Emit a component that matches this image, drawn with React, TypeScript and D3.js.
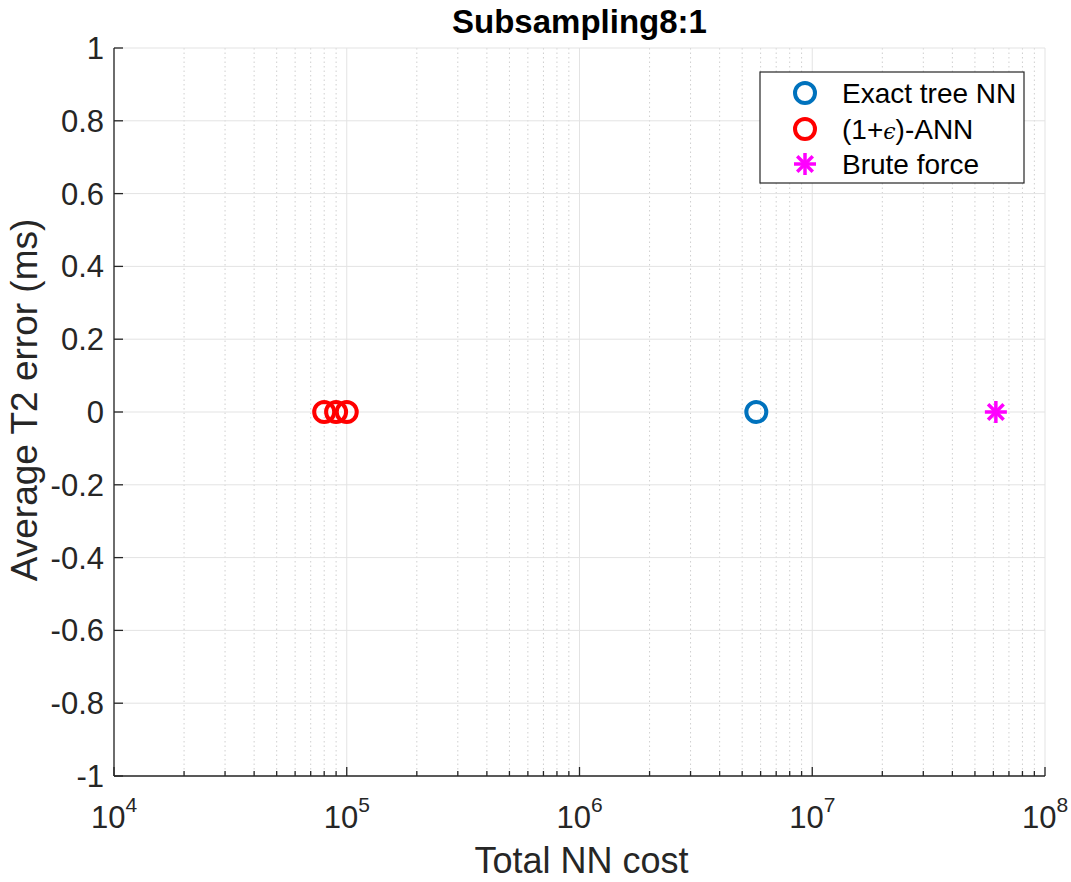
import React from "react";
import * as d3 from "d3";

// series: total NN cost vs average T2 error
const exactCost = [5.75e6];
const exactErr = [0];
const annCost = [8.0e4, 9.0e4, 1.0e5];
const annErr = [0, 0, 0];
const bruteCost = [6.15e7];
const bruteErr = [0];

const xDecades = [4, 5, 6, 7, 8];
const yTicks = [-1, -0.8, -0.6, -0.4, -0.2, 0, 0.2, 0.4, 0.6, 0.8, 1];
const yTickLabels = ["-1", "-0.8", "-0.6", "-0.4", "-0.2", "0", "0.2", "0.4", "0.6", "0.8", "1"];

const legendLabels = ["Exact tree NN", "(1+", "Brute force"];

const W = 1071;
const H = 882;
const left = 114;
const right = 1045;
const top = 48;
const bottom = 776;

const axisColor = "#262626";
const font = "'Liberation Sans', Arial, Helvetica, sans-serif";
const blue = "#0072BD";
const red = "#FF0000";
const magenta = "#FF00FF";

function Star({ cx, cy, r, color }: { cx: number; cy: number; r: number; color: string }) {
  const d = r * Math.SQRT1_2;
  return (
    <g stroke={color} strokeWidth={3.5} strokeLinecap="butt">
      <line x1={cx - r} y1={cy} x2={cx + r} y2={cy} />
      <line x1={cx} y1={cy - r} x2={cx} y2={cy + r} />
      <line x1={cx - d} y1={cy - d} x2={cx + d} y2={cy + d} />
      <line x1={cx - d} y1={cy + d} x2={cx + d} y2={cy - d} />
    </g>
  );
}

export default function App() {
  const x = d3.scaleLog().domain([1e4, 1e8]).range([left, right]);
  const y = d3.scaleLinear().domain([-1, 1]).range([bottom, top]);

  const minor: number[] = [];
  xDecades.slice(0, -1).forEach((e) => {
    for (let m = 2; m <= 9; m++) minor.push(m * Math.pow(10, e));
  });

  const legX = 760;
  const legY = 72;
  const legW = 264;
  const legH = 111;
  const rowY = [93, 129, 164];
  const markX = 805;
  const textX = 842;

  return (
    <svg
      width={W}
      height={H}
      style={{ position: "absolute", left: 0, top: 0, background: "#fff" }}
      fontFamily={font}
    >
      <rect width={W} height={H} fill="#fff" />

      {/* minor x grid */}
      {minor.map((v, i) => (
        <line
          key={"mg" + i}
          x1={x(v)}
          x2={x(v)}
          y1={top}
          y2={bottom}
          stroke="#cfcfcf"
          strokeWidth={1}
          strokeDasharray="1.5,3"
        />
      ))}
      {/* major grid */}
      {xDecades.map((e) => (
        <line
          key={"xg" + e}
          x1={x(Math.pow(10, e))}
          x2={x(Math.pow(10, e))}
          y1={top}
          y2={bottom}
          stroke="#e3e3e3"
          strokeWidth={1}
        />
      ))}
      {yTicks.map((v) => (
        <line key={"yg" + v} x1={left} x2={right} y1={y(v)} y2={y(v)} stroke="#e3e3e3" strokeWidth={1} />
      ))}

      {/* axes */}
      <line x1={left} x2={left} y1={top} y2={bottom} stroke={axisColor} strokeWidth={1.3} />
      <line x1={left} x2={right} y1={bottom} y2={bottom} stroke={axisColor} strokeWidth={1.3} />
      {yTicks.map((v) => (
        <line key={"yt" + v} x1={left} x2={left + 9} y1={y(v)} y2={y(v)} stroke={axisColor} strokeWidth={1.3} />
      ))}
      {xDecades.map((e) => (
        <line
          key={"xt" + e}
          x1={x(Math.pow(10, e))}
          x2={x(Math.pow(10, e))}
          y1={bottom}
          y2={bottom - 9}
          stroke={axisColor}
          strokeWidth={1.3}
        />
      ))}
      {minor.map((v, i) => (
        <line key={"mt" + i} x1={x(v)} x2={x(v)} y1={bottom} y2={bottom - 5} stroke={axisColor} strokeWidth={1.3} />
      ))}

      {/* tick labels */}
      {yTicks.map((v, i) => (
        <text
          key={"yl" + v}
          x={left - 10}
          y={y(v) + 11}
          textAnchor="end"
          fontSize={31}
          fill={axisColor}
        >
          {yTickLabels[i]}
        </text>
      ))}
      {xDecades.map((e) => (
        <text key={"xl" + e} x={x(Math.pow(10, e))} y={828} textAnchor="middle" fontSize={31} fill={axisColor}>
          <tspan>10</tspan>
          <tspan dy={-16} fontSize={21}>
            {e}
          </tspan>
        </text>
      ))}

      {/* axis labels and title */}
      <text x={(left + right) / 2 + 2} y={873} textAnchor="middle" fontSize={36} fill={axisColor}>
        Total NN cost
      </text>
      <text
        transform={`translate(37,400) rotate(-90)`}
        textAnchor="middle"
        fontSize={37}
        fill={axisColor}
      >
        Average T2 error (ms)
      </text>
      <text x={(left + right) / 2} y={33} textAnchor="middle" fontSize={33} fontWeight="bold" fill="#000">
        Subsampling8:1
      </text>

      {/* data */}
      {annCost.map((c, i) => (
        <circle key={"a" + i} cx={x(c)} cy={y(annErr[i])} r={10} fill="none" stroke={red} strokeWidth={4} />
      ))}
      {exactCost.map((c, i) => (
        <circle key={"e" + i} cx={x(c)} cy={y(exactErr[i])} r={10} fill="none" stroke={blue} strokeWidth={4} />
      ))}
      {bruteCost.map((c, i) => (
        <Star key={"b" + i} cx={x(c)} cy={y(bruteErr[i])} r={11} color={magenta} />
      ))}

      {/* legend */}
      <rect x={legX} y={legY} width={legW} height={legH} fill="#fff" stroke={axisColor} strokeWidth={1.2} />
      <circle cx={markX} cy={rowY[0]} r={10} fill="none" stroke={blue} strokeWidth={4} />
      <circle cx={markX} cy={rowY[1]} r={10} fill="none" stroke={red} strokeWidth={4} />
      <Star cx={markX} cy={rowY[2]} r={11} color={magenta} />
      <text x={textX} y={rowY[0] + 10} fontSize={28} fill="#000">
        {legendLabels[0]}
      </text>
      <text x={textX} y={rowY[1] + 10} fontSize={28} fill="#000">
        {legendLabels[1]}
        <tspan fontFamily="'DejaVu Serif', serif" fontStyle="italic" fontSize={22}>
          ϵ
        </tspan>
        )-ANN
      </text>
      <text x={textX} y={rowY[2] + 10} fontSize={28} fill="#000">
        {legendLabels[2]}
      </text>
    </svg>
  );
}
